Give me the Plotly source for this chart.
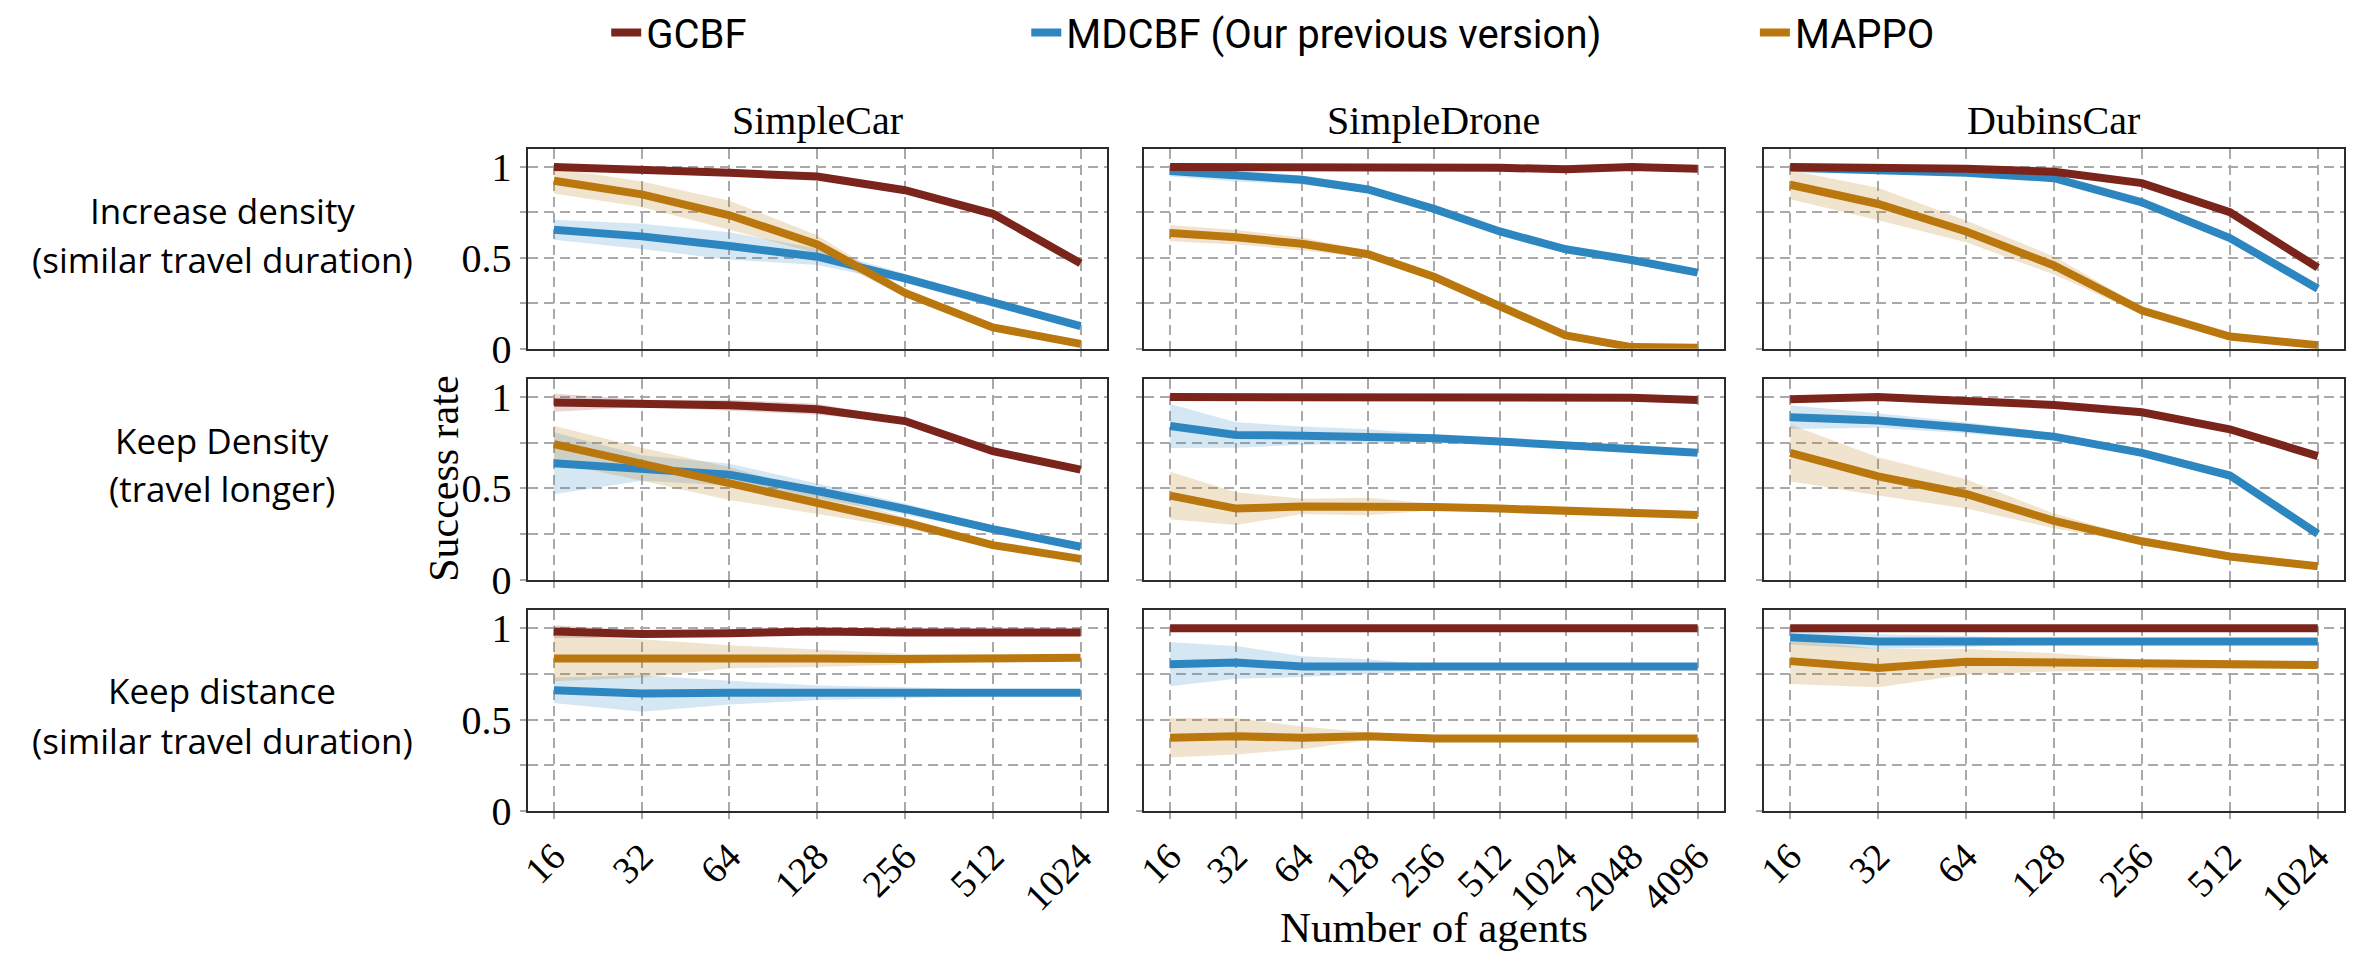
import plotly.graph_objects as go
from plotly.subplots import make_subplots

W, H = 2374, 967

# ---------------- data ----------------
col_titles = ["SimpleCar", "SimpleDrone", "DubinsCar"]
row_line1 = ["Increase density", "Keep Density", "Keep distance"]
row_line2 = ["(similar travel duration)", "(travel longer)", "(similar travel duration)"]
methods = ["GCBF", "MDCBF (Our previous version)", "MAPPO"]

x_car = ["16", "32", "64", "128", "256", "512", "1024"]
x_drone = ["16", "32", "64", "128", "256", "512", "1024", "2048", "4096"]

# Row 1: Increase density
inc_car_gcbf = [1.00, 0.987, 0.968, 0.947, 0.872, 0.742, 0.470]
inc_car_gcbf_sd = [0.010, 0.010, 0.015, 0.015, 0.010, 0.015, 0.010]
inc_car_mdcbf = [0.654, 0.618, 0.565, 0.506, 0.387, 0.250, 0.124]
inc_car_mdcbf_sd = [0.055, 0.070, 0.075, 0.045, 0.025, 0.020, 0.015]
inc_car_mappo = [0.924, 0.849, 0.734, 0.574, 0.307, 0.117, 0.027]
inc_car_mappo_sd = [0.070, 0.070, 0.080, 0.050, 0.020, 0.015, 0.010]

inc_drone_gcbf = [1.0, 1.0, 1.0, 1.0, 0.998, 0.995, 0.987, 1.0, 0.990]
inc_drone_gcbf_sd = [0.008, 0.008, 0.008, 0.008, 0.008, 0.008, 0.008, 0.008, 0.008]
inc_drone_mdcbf = [0.977, 0.950, 0.929, 0.876, 0.769, 0.645, 0.547, 0.488, 0.419]
inc_drone_mdcbf_sd = [0.030, 0.030, 0.025, 0.020, 0.010, 0.010, 0.010, 0.010, 0.010]
inc_drone_mappo = [0.636, 0.613, 0.577, 0.520, 0.396, 0.236, 0.073, 0.009, 0.005]
inc_drone_mappo_sd = [0.045, 0.040, 0.035, 0.020, 0.012, 0.010, 0.010, 0.005, 0.005]

inc_dub_gcbf = [1.0, 1.0, 0.990, 0.973, 0.911, 0.751, 0.446]
inc_dub_gcbf_sd = [0.010, 0.010, 0.010, 0.010, 0.010, 0.010, 0.010]
inc_dub_mdcbf = [0.995, 0.982, 0.968, 0.938, 0.805, 0.609, 0.330]
inc_dub_mdcbf_sd = [0.010, 0.010, 0.010, 0.015, 0.015, 0.015, 0.010]
inc_dub_mappo = [0.902, 0.796, 0.645, 0.458, 0.210, 0.067, 0.020]
inc_dub_mappo_sd = [0.080, 0.090, 0.060, 0.050, 0.020, 0.010, 0.010]

# Row 2: Keep density
kd_car_gcbf = [0.970, 0.966, 0.956, 0.934, 0.869, 0.704, 0.603]
kd_car_gcbf_sd = [0.050, 0.020, 0.030, 0.030, 0.010, 0.010, 0.010]
kd_car_mdcbf = [0.638, 0.612, 0.576, 0.486, 0.388, 0.278, 0.181]
kd_car_mdcbf_sd = [0.170, 0.070, 0.060, 0.040, 0.030, 0.015, 0.015]
kd_car_mappo = [0.743, 0.633, 0.527, 0.420, 0.314, 0.190, 0.115]
kd_car_mappo_sd = [0.100, 0.090, 0.090, 0.060, 0.030, 0.015, 0.010]

kd_drone_gcbf = [1.0, 1.0, 1.0, 1.0, 1.0, 1.0, 0.998, 0.997, 0.984]
kd_drone_gcbf_sd = [0.008, 0.008, 0.008, 0.008, 0.008, 0.008, 0.008, 0.008, 0.008]
kd_drone_mdcbf = [0.842, 0.793, 0.789, 0.784, 0.775, 0.757, 0.736, 0.718, 0.695]
kd_drone_mdcbf_sd = [0.120, 0.070, 0.050, 0.040, 0.020, 0.010, 0.010, 0.010, 0.010]
kd_drone_mappo = [0.461, 0.390, 0.402, 0.402, 0.399, 0.390, 0.376, 0.367, 0.355]
kd_drone_mappo_sd = [0.130, 0.090, 0.042, 0.048, 0.018, 0.010, 0.010, 0.010, 0.010]

kd_dub_gcbf = [0.988, 1.0, 0.979, 0.957, 0.917, 0.824, 0.677]
kd_dub_gcbf_sd = [0.020, 0.010, 0.010, 0.010, 0.010, 0.010, 0.010]
kd_dub_mdcbf = [0.890, 0.872, 0.832, 0.784, 0.695, 0.571, 0.252]
kd_dub_mdcbf_sd = [0.065, 0.040, 0.030, 0.020, 0.015, 0.010, 0.010]
kd_dub_mappo = [0.695, 0.566, 0.470, 0.323, 0.211, 0.128, 0.074]
kd_dub_mappo_sd = [0.155, 0.105, 0.080, 0.040, 0.015, 0.010, 0.010]

# Row 3: Keep distance
kdist_car_gcbf = [0.982, 0.968, 0.973, 0.982, 0.977, 0.977, 0.977]
kdist_car_gcbf_sd = [0.035, 0.020, 0.010, 0.010, 0.010, 0.010, 0.010]
kdist_car_mdcbf = [0.661, 0.643, 0.647, 0.647, 0.647, 0.647, 0.647]
kdist_car_mdcbf_sd = [0.070, 0.100, 0.065, 0.040, 0.030, 0.015, 0.015]
kdist_car_mappo = [0.835, 0.835, 0.844, 0.835, 0.831, 0.838, 0.838]
kdist_car_mappo_sd = [0.125, 0.105, 0.063, 0.047, 0.030, 0.018, 0.010]

kdist_drone_gcbf = [1.0, 1.0, 1.0, 1.0, 1.0, 1.0, 1.0, 1.0, 1.0]
kdist_drone_gcbf_sd = [0.005, 0.005, 0.005, 0.005, 0.005, 0.005, 0.005, 0.005, 0.005]
kdist_drone_mdcbf = [0.803, 0.813, 0.790, 0.790, 0.785, 0.787, 0.785, 0.787, 0.790]
kdist_drone_mdcbf_sd = [0.120, 0.090, 0.057, 0.040, 0.015, 0.010, 0.010, 0.010, 0.010]
kdist_drone_mappo = [0.400, 0.409, 0.400, 0.409, 0.396, 0.396, 0.391, 0.396, 0.396]
kdist_drone_mappo_sd = [0.107, 0.100, 0.062, 0.022, 0.010, 0.010, 0.010, 0.010, 0.010]

kdist_dub_gcbf = [1.0, 1.0, 1.0, 1.0, 1.0, 1.0, 1.0]
kdist_dub_gcbf_sd = [0.005, 0.005, 0.005, 0.005, 0.005, 0.005, 0.005]
kdist_dub_mdcbf = [0.950, 0.927, 0.927, 0.927, 0.929, 0.927, 0.927]
kdist_dub_mdcbf_sd = [0.040, 0.040, 0.030, 0.012, 0.010, 0.010, 0.010]
kdist_dub_mappo = [0.820, 0.782, 0.817, 0.813, 0.799, 0.799, 0.799]
kdist_dub_mappo_sd = [0.125, 0.105, 0.070, 0.050, 0.030, 0.022, 0.015]

y_tickvals = [0, 0.25, 0.5, 0.75, 1.0]
y_ticktext = ["0", "", "0.5", "", "1"]

# ---------------- styling ----------------
colors = {"GCBF": "#7B241C", "MDCBF (Our previous version)": "#2E86C1", "MAPPO": "#B9770E"}
fills = {"GCBF": "rgba(123,36,28,0.18)", "MDCBF (Our previous version)": "rgba(46,134,193,0.2)",
         "MAPPO": "rgba(185,119,14,0.2)"}
legend_ids = {"GCBF": "legend", "MDCBF (Our previous version)": "legend2", "MAPPO": "legend3"}

SERIF = "Liberation Serif, Times New Roman, serif"
SANS = "Open Sans, Liberation Sans, sans-serif"
GRID = dict(showgrid=True, gridcolor="#a9a9a9", gridwidth=2, griddash="10px,6px",
            showline=True, mirror=True, linecolor="#2b2b2b", linewidth=2,
            ticks="outside", ticklen=6, tickwidth=2, tickcolor="#a9a9a9", zeroline=False)

panels = [
    [(x_car, inc_car_gcbf, inc_car_gcbf_sd, inc_car_mdcbf, inc_car_mdcbf_sd, inc_car_mappo, inc_car_mappo_sd),
     (x_drone, inc_drone_gcbf, inc_drone_gcbf_sd, inc_drone_mdcbf, inc_drone_mdcbf_sd, inc_drone_mappo, inc_drone_mappo_sd),
     (x_car, inc_dub_gcbf, inc_dub_gcbf_sd, inc_dub_mdcbf, inc_dub_mdcbf_sd, inc_dub_mappo, inc_dub_mappo_sd)],
    [(x_car, kd_car_gcbf, kd_car_gcbf_sd, kd_car_mdcbf, kd_car_mdcbf_sd, kd_car_mappo, kd_car_mappo_sd),
     (x_drone, kd_drone_gcbf, kd_drone_gcbf_sd, kd_drone_mdcbf, kd_drone_mdcbf_sd, kd_drone_mappo, kd_drone_mappo_sd),
     (x_car, kd_dub_gcbf, kd_dub_gcbf_sd, kd_dub_mdcbf, kd_dub_mdcbf_sd, kd_dub_mappo, kd_dub_mappo_sd)],
    [(x_car, kdist_car_gcbf, kdist_car_gcbf_sd, kdist_car_mdcbf, kdist_car_mdcbf_sd, kdist_car_mappo, kdist_car_mappo_sd),
     (x_drone, kdist_drone_gcbf, kdist_drone_gcbf_sd, kdist_drone_mdcbf, kdist_drone_mdcbf_sd, kdist_drone_mappo, kdist_drone_mappo_sd),
     (x_car, kdist_dub_gcbf, kdist_dub_gcbf_sd, kdist_dub_mdcbf, kdist_dub_mdcbf_sd, kdist_dub_mappo, kdist_dub_mappo_sd)],
]

# layout geometry (pixels)
col_px = [(519, 1101), (1138, 1721), (1761, 2344)]
row_px = [(148, 354), (385, 592), (623, 830)]
row_label_px = [(212, 262), (448, 498), (706, 757)]

fig = make_subplots(rows=3, cols=3)

for r in range(3):
    for c in range(3):
        xs, g, gs, m, ms, p, ps = panels[r][c]
        series = {"MDCBF (Our previous version)": (m, ms), "MAPPO": (p, ps), "GCBF": (g, gs)}
        for name, (mean, sd) in series.items():
            upper = [a + b for a, b in zip(mean, sd)]
            lower = [a - b for a, b in zip(mean, sd)]
            fig.add_trace(go.Scatter(x=xs + xs[::-1], y=upper + lower[::-1], fill="toself",
                                     fillcolor=fills[name], line=dict(width=0), mode="lines",
                                     hoverinfo="skip", showlegend=False), row=r + 1, col=c + 1)
        for name, (mean, sd) in series.items():
            fig.add_trace(go.Scatter(x=xs, y=mean, mode="lines", name=name,
                                     line=dict(color=colors[name], width=8),
                                     showlegend=(r == 0 and c == 0),
                                     legend=legend_ids[name]), row=r + 1, col=c + 1)

        idx = r * 3 + c + 1
        xa = "xaxis" if idx == 1 else f"xaxis{idx}"
        ya = "yaxis" if idx == 1 else f"yaxis{idx}"
        n = len(xs)
        fig.layout[xa].update(
            domain=[col_px[c][0] / W, col_px[c][1] / W],
            type="category", categoryorder="array", categoryarray=xs,
            range=[-0.05 * (n - 1), (n - 1) * 1.05],
            showticklabels=(r == 2), tickangle=-45,
            tickfont=dict(family=SERIF, size=38, color="black"),
            **GRID,
        )
        fig.layout[ya].update(
            domain=[1 - row_px[r][1] / H, 1 - row_px[r][0] / H],
            range=[0, 1.1], tickvals=y_tickvals, ticktext=y_ticktext,
            showticklabels=(c == 0),
            tickfont=dict(family=SERIF, size=40, color="black"),
            **GRID,
        )

annotations = []
for c in range(3):
    annotations.append(dict(text=col_titles[c], x=(col_px[c][0] + col_px[c][1]) / 2 / W,
                            y=1 - (row_px[0][0] - 4) / H, xref="paper", yref="paper",
                            xanchor="center", yanchor="bottom", showarrow=False,
                            font=dict(family=SERIF, size=40, color="black")))
for r in range(3):
    for txt, ypx in ((row_line1[r], row_label_px[r][0]), (row_line2[r], row_label_px[r][1])):
        annotations.append(dict(text=txt, x=212 / W, y=1 - ypx / H,
                                xref="paper", yref="paper", xanchor="center", yanchor="middle",
                                showarrow=False, font=dict(family=SANS, size=35, color="black")))
annotations.append(dict(text="Success rate", x=435 / W, y=1 - 488 / H, xref="paper", yref="paper",
                        xanchor="center", yanchor="middle", textangle=-90, showarrow=False,
                        font=dict(family=SERIF, size=42, color="black")))
annotations.append(dict(text="Number of agents", x=(col_px[1][0] + col_px[1][1]) / 2 / W,
                        y=1 - 950 / H, xref="paper", yref="paper", xanchor="center",
                        yanchor="middle", showarrow=False,
                        font=dict(family=SERIF, size=43, color="black")))

legend_style = dict(orientation="h", yanchor="middle", y=1 - 28 / H, xanchor="left",
                    bgcolor="rgba(0,0,0,0)", font=dict(family="Roboto, sans-serif", size=40, color="black"))

fig.update_layout(
    width=W, height=H,
    margin=dict(l=0, r=0, t=0, b=0),
    paper_bgcolor="white", plot_bgcolor="white",
    annotations=annotations,
    legend=dict(x=598 / W, **legend_style),
    legend2=dict(x=1020 / W, **legend_style),
    legend3=dict(x=1752 / W, **legend_style),
)

fig.write_html("out.html")
